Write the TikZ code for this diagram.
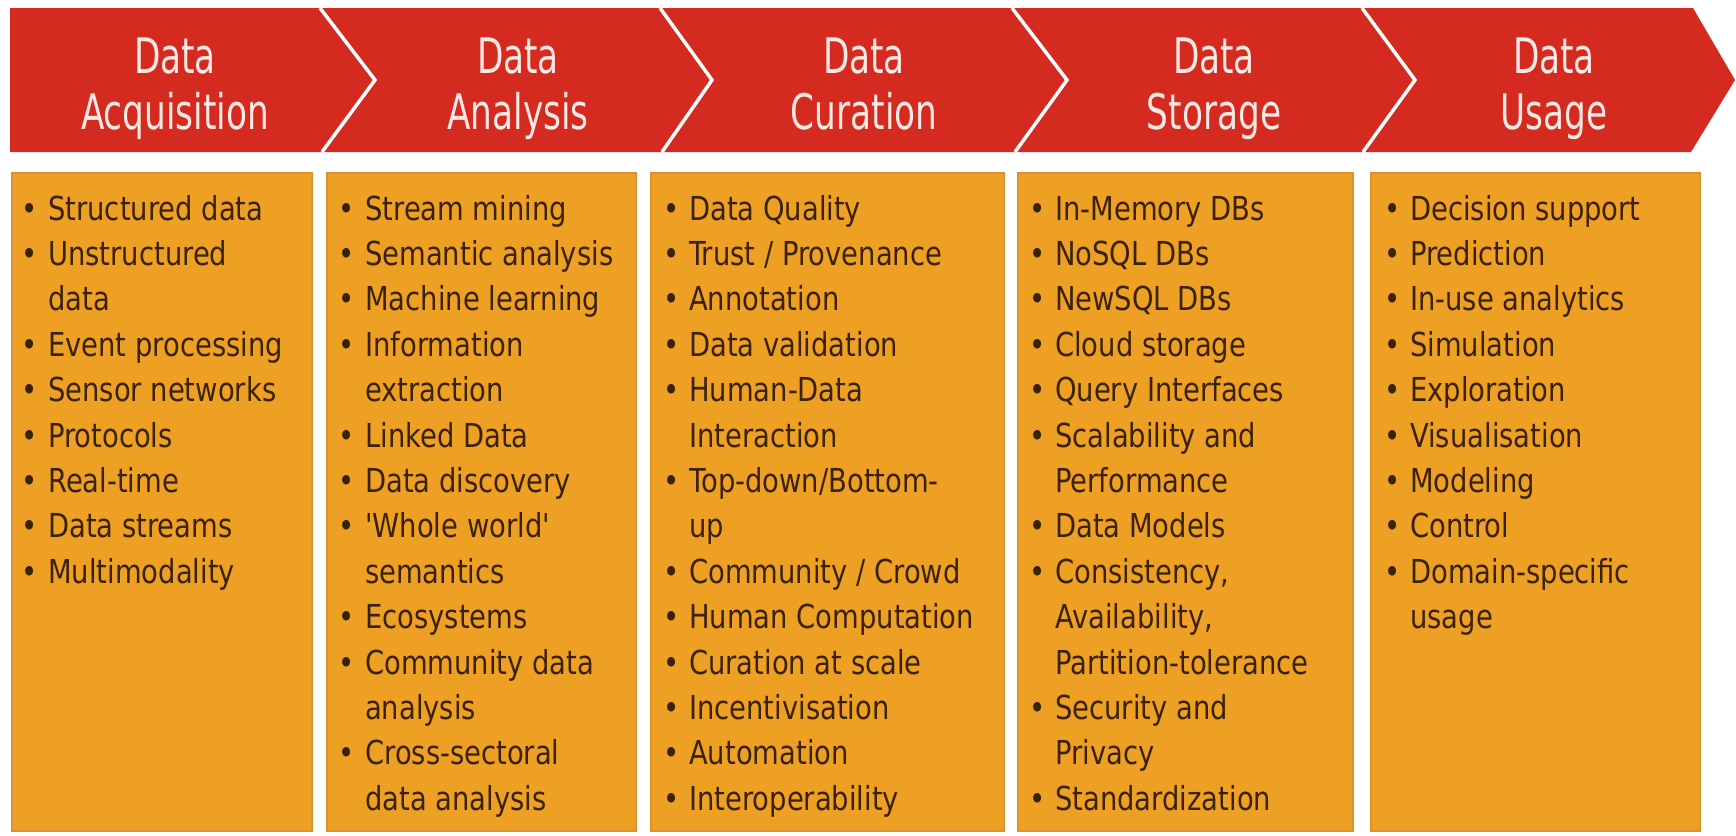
\documentclass[tikz,border=0pt]{standalone}
\usepackage{fontspec}
\setmainfont{DejaVu Sans}
\newfontfamily\hdrfont{DejaVu Sans}[FakeStretch=0.70]
\newfontfamily\bodyfont{DejaVu Sans}[FakeStretch=0.83]
\definecolor{bannerred}{HTML}{D42A20}
\definecolor{panelorange}{HTML}{EEA024}
\definecolor{paneledge}{HTML}{DC9230}
\definecolor{txtdark}{HTML}{3A2208}
\definecolor{hdrtxt}{HTML}{FDE8E4}
\tikzset{
  panel/.style={fill=panelorange, draw=paneledge, line width=2pt, anchor=north west, inner sep=0pt},
  chev/.style={draw=white, line width=3.5pt, line join=miter},
  hdr/.style={font=\hdrfont\fontsize{49}{56}\selectfont, text=hdrtxt, anchor=base, inner sep=0pt},
  bul/.style={font=\bodyfont\fontsize{33}{40}\selectfont, text=txtdark, anchor=base, inner sep=0pt},
  itm/.style={font=\bodyfont\fontsize{33}{40}\selectfont, text=txtdark, anchor=base west, inner sep=0pt},
}
\newcommand\listcol[4]{%
  \foreach [count=\k from 0] \m/\t in {#4} {%
    \pgfmathsetmacro\yy{220+45.4*\k}%
    \if b\m \node[bul] (#1-b\k) at (#2,\yy) {•};\fi
    \node[itm] (#1-\k) at (#3,\yy) {\t};
  }%
}
\begin{document}
\begin{tikzpicture}[x=1pt,y=-1pt]
\useasboundingbox[fill=white] (0,0) rectangle (1736,835);
% banner
\fill[bannerred] (10,8) -- (1693,8) -- (1735,80) -- (1691,152) -- (10,152) -- cycle;
\draw[chev] (320,8) -- (375,80) -- (322,152);
\draw[chev] (660,8) -- (712,80) -- (662,152);
\draw[chev] (1012,8) -- (1067,80) -- (1015,152);
\draw[chev] (1362,8) -- (1415,80) -- (1363,152);
% headers
\node[hdr] (h1a) at (175,73) {Data};
\node[hdr] (h1b) at (175,129) {Acquisition};
\node[hdr] (h2a) at (518,73) {Data};
\node[hdr] (h2b) at (518,129) {Analysis};
\node[hdr] (h3a) at (864,73) {Data};
\node[hdr] (h3b) at (864,129) {Curation};
\node[hdr] (h4a) at (1214,73) {Data};
\node[hdr] (h4b) at (1214,129) {Storage};
\node[hdr] (h5a) at (1554,73) {Data};
\node[hdr] (h5b) at (1554,129) {Usage};
% panels
\node[panel, minimum width=300pt, minimum height=658pt] (p1) at (11,172) {};
\node[panel, minimum width=309pt, minimum height=658pt] (p2) at (326,172) {};
\node[panel, minimum width=353pt, minimum height=658pt] (p3) at (650,172) {};
\node[panel, minimum width=335pt, minimum height=658pt] (p4) at (1017,172) {};
\node[panel, minimum width=329pt, minimum height=658pt] (p5) at (1370,172) {};
% lists
\listcol{a}{30}{48}{b/Structured data, b/Unstructured, c/data, b/Event processing, b/Sensor networks, b/Protocols, b/Real-time, b/Data streams, b/Multimodality}
\listcol{n}{347}{365}{b/Stream mining, b/Semantic analysis, b/Machine learning, b/Information, c/extraction, b/Linked Data, b/Data discovery, b/'Whole world', c/semantics, b/Ecosystems, b/Community data, c/analysis, b/Cross-sectoral, c/data analysis}
\listcol{c}{672}{689}{b/Data Quality, b/{Trust / Provenance}, b/Annotation, b/Data validation, b/Human-Data, c/Interaction, b/{Top-down/Bottom-}, c/up, b/{Community / Crowd}, b/Human Computation, b/Curation at scale, b/Incentivisation, b/Automation, b/Interoperability}
\listcol{s}{1038}{1055}{b/In-Memory DBs, b/NoSQL DBs, b/NewSQL DBs, b/Cloud storage, b/Query Interfaces, b/Scalability and, c/Performance, b/Data Models, b/{Consistency,}, c/{Availability,}, c/Partition-tolerance, b/Security and, c/Privacy, b/Standardization}
\listcol{u}{1393}{1410}{b/Decision support, b/Prediction, b/In-use analytics, b/Simulation, b/Exploration, b/Visualisation, b/Modeling, b/Control, b/Domain-specific, c/usage}
\end{tikzpicture}
\end{document}
